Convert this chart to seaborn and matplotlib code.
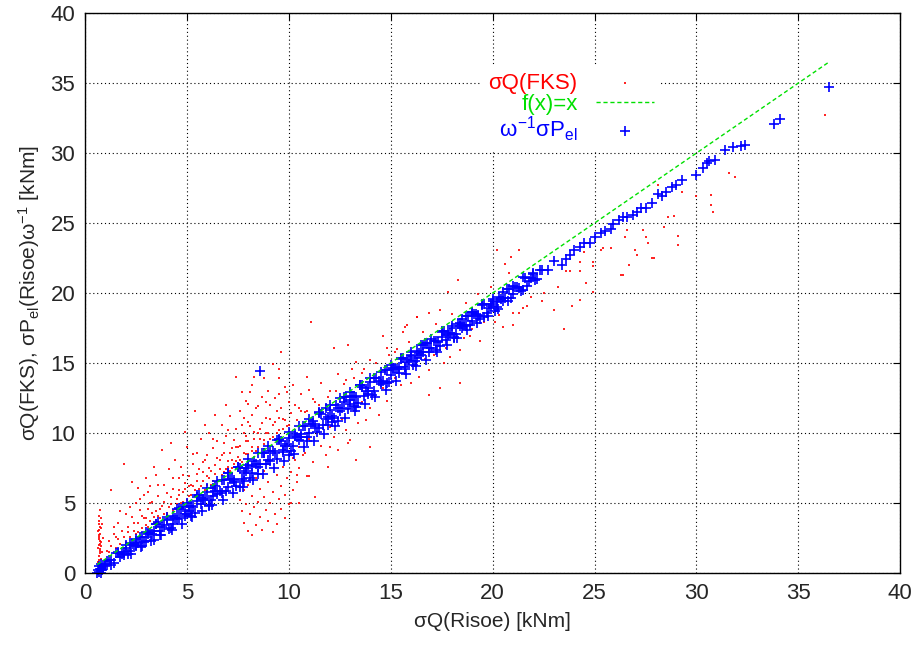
import matplotlib
matplotlib.use("Agg")
import matplotlib.pyplot as plt
import pandas as pd
import seaborn as sns

# sigma Q(Risoe) vs sigma Q(FKS)
red_spike = [(0.65, 0.8), (0.7, 1.2), (0.72, 1.6), (0.68, 2.0), (0.75, 2.3), (0.7, 2.7),
             (0.66, 3.0), (0.73, 3.3), (0.7, 3.7), (0.68, 4.1), (0.72, 4.5), (0.78, 1.0),
             (0.8, 1.9), (0.76, 2.8), (0.82, 3.5), (0.7, 0.5), (0.74, 1.4), (0.69, 2.4),
             (0.71, 3.1), (0.77, 3.9), (0.85, 1.5), (0.88, 2.5), (0.66, 1.8), (0.73, 2.1),
             (0.67, 2.6), (0.79, 3.2), (0.71, 0.9), (0.75, 1.7), (0.69, 3.5), (0.8, 2.2)]
red_upper = [(1.1, 1.6), (1.2, 2.3), (1.3, 1.9), (1.3, 5.9), (1.4, 2.8), (1.5, 1.8), (1.6, 2.4),
             (1.6, 3.6), (1.7, 2.1), (1.8, 3.0), (1.9, 7.8), (1.9, 2.6), (2.0, 4.2), (2.0, 2.2),
             (2.1, 3.3), (2.2, 2.6), (2.3, 6.5), (2.3, 4.0), (2.4, 3.0), (2.5, 2.8), (2.5, 5.0),
             (2.6, 3.6), (2.7, 4.5), (2.8, 3.2), (2.9, 5.6), (2.9, 3.9), (3.0, 3.4), (3.1, 4.6),
             (3.2, 3.7), (3.2, 6.2), (3.3, 5.1), (3.4, 4.0), (3.5, 7.0), (3.5, 4.4), (3.6, 5.5),
             (3.7, 3.9), (3.8, 8.8), (3.8, 4.8), (3.9, 6.3), (4.0, 4.3), (4.0, 5.7), (4.1, 7.4),
             (4.2, 4.9), (4.3, 6.0), (4.4, 4.6), (4.4, 8.1), (4.5, 5.3), (4.6, 6.8), (4.7, 5.0),
             (4.7, 7.6), (4.8, 5.8), (4.9, 6.4), (5.0, 5.2), (5.0, 9.0), (5.1, 6.9), (5.2, 5.6),
             (5.3, 7.8), (5.3, 6.2), (5.4, 5.5), (5.4, 11.6), (5.5, 8.6), (5.5, 7.1), (5.6, 6.0),
             (5.7, 9.6), (5.8, 6.6), (5.8, 7.9), (5.9, 5.9), (6.0, 8.4), (6.0, 6.9), (6.1, 10.0),
             (6.2, 7.3), (6.2, 6.3), (6.3, 8.9), (6.4, 7.7), (6.5, 6.6), (6.5, 9.4), (6.6, 8.1),
             (6.7, 7.0), (6.7, 10.6), (6.8, 8.6), (6.9, 7.4), (6.9, 9.8), (7.0, 8.0), (7.1, 11.2),
             (7.1, 7.3), (7.2, 8.9), (7.3, 9.5), (7.3, 7.8), (7.4, 14.0), (7.4, 10.3), (7.5, 8.3),
             (7.6, 11.6), (7.6, 9.1), (7.7, 7.9), (7.8, 10.0), (7.8, 11.1), (7.9, 12.3), (7.9, 8.5),
             (8.0, 9.4), (8.0, 10.8), (8.1, 12.9), (8.2, 9.0), (8.2, 11.3), (8.2, 13.4), (8.3, 10.1),
             (8.3, 14.0), (8.4, 8.7), (8.5, 11.9), (8.6, 9.6), (8.7, 10.7), (8.7, 12.6), (8.8, 9.2),
             (8.9, 11.1), (9.0, 13.0), (9.0, 10.0), (9.1, 12.0), (9.2, 9.7), (9.3, 10.8), (9.4, 11.6),
             (9.5, 10.2), (9.5, 12.8), (9.5, 13.9), (9.5, 14.6), (9.6, 15.8), (9.7, 11.0), (9.8, 13.3),
             (9.9, 10.5), (10.0, 12.2), (10.3, 12.0), (10.6, 12.8), (10.8, 11.5), (11.0, 13.1),
             (11.1, 17.9), (11.3, 12.2), (11.6, 13.6), (12.0, 13.0), (12.2, 16.1), (12.4, 14.2),
             (12.8, 13.8), (12.9, 16.3), (13.1, 14.6), (13.3, 15.1), (13.6, 14.3), (14.0, 15.2),
             (14.6, 16.9), (14.8, 16.1), (15.2, 15.8), (15.6, 17.2), (15.8, 17.7), (16.3, 18.3)]
red_near = [(2.1, 2.9), (2.4, 3.6), (2.6, 2.9), (2.8, 4.1), (3.0, 3.9), (3.1, 3.3), (3.3, 4.3),
            (3.4, 3.6), (3.6, 4.1), (3.7, 4.6), (3.9, 4.2), (4.1, 4.7), (4.2, 5.4), (4.3, 4.5),
            (4.5, 4.9), (4.6, 5.6), (4.8, 5.1), (4.9, 6.0), (5.1, 5.5), (5.2, 6.3), (5.4, 5.9),
            (5.5, 6.6), (5.7, 6.2), (5.8, 7.2), (6.0, 6.3), (6.1, 7.5), (6.3, 6.6), (6.4, 7.1),
            (6.6, 7.4), (6.7, 8.4), (6.8, 7.2), (7.0, 7.6), (7.1, 8.6), (7.2, 7.5), (7.4, 8.0),
            (7.5, 9.0), (7.6, 8.1), (7.8, 8.6), (7.9, 9.4), (8.0, 8.5), (8.2, 8.7), (8.3, 9.6),
            (8.5, 9.0), (8.6, 10.3), (8.8, 9.5), (8.9, 10.0), (9.1, 9.6), (9.2, 10.6), (9.4, 10.0),
            (9.5, 11.1), (9.7, 10.3), (9.8, 10.9), (10.0, 10.6), (10.1, 11.4), (10.4, 10.9),
            (10.6, 11.6), (10.9, 11.6), (11.2, 12.4), (11.5, 12.0), (11.9, 12.6), (12.3, 13.0),
            (12.7, 13.5), (13.2, 13.9), (13.7, 14.6), (14.3, 15.0), (14.9, 15.6), (3.0, 6.8),
            (4.2, 9.3), (4.9, 10.1), (6.4, 11.3), (6.9, 12.0), (8.0, 12.1), (9.2, 14.9), (3.4, 7.6),
            (2.6, 6.1), (5.9, 10.6), (7.7, 12.9), (8.8, 13.9)]
red_cloud = [(3.2, 5.0), (3.6, 6.3), (3.9, 5.1), (4.3, 6.8), (4.6, 5.9), (4.8, 7.0), (5.1, 6.2),
             (5.3, 8.5), (5.6, 7.4), (5.9, 8.1), (6.1, 6.8), (6.3, 9.6), (6.5, 8.2), (6.8, 9.3),
             (7.0, 10.2), (7.2, 8.1), (7.4, 9.0), (7.7, 10.6), (7.9, 9.8), (8.1, 10.5), (8.4, 11.8),
             (8.5, 10.0), (8.9, 12.2), (9.1, 11.0), (9.3, 12.5), (9.6, 11.8), (9.9, 12.9),
             (10.2, 13.4), (10.5, 11.8), (10.9, 14.0), (2.2, 4.7), (1.7, 4.4), (1.4, 3.3),
             (2.7, 5.3), (3.1, 5.8), (1.2, 1.5), (1.5, 2.6)]
red_lower = [(7.6, 5.2), (7.7, 4.4), (7.8, 5.9), (7.8, 3.6), (7.9, 4.9), (8.0, 3.0), (8.0, 6.3),
             (8.1, 4.2), (8.2, 5.5), (8.2, 2.7), (8.3, 4.7), (8.4, 3.4), (8.4, 6.8), (8.5, 5.1),
             (8.6, 4.0), (8.6, 6.0), (8.7, 3.1), (8.8, 5.4), (8.8, 7.3), (8.9, 4.5), (9.0, 3.7),
             (9.0, 6.5), (9.1, 5.0), (9.2, 2.9), (9.2, 5.8), (9.3, 4.2), (9.4, 7.0), (9.4, 3.5),
             (9.5, 5.3), (9.6, 6.2), (9.6, 4.6), (9.7, 7.6), (9.8, 3.9), (9.8, 5.6), (9.9, 6.8),
             (10.0, 4.9), (10.1, 7.2), (10.1, 5.0), (10.2, 5.9), (10.3, 8.1), (10.4, 6.5),
             (10.4, 7.0), (10.5, 7.5), (10.5, 5.0), (10.7, 8.4), (10.9, 6.9), (11.0, 6.9), (11.3, 5.4)]
red_mid = [(10.2, 8.2), (10.5, 9.0), (10.8, 8.6), (11.0, 9.6), (11.2, 7.9), (11.4, 10.0),
           (11.6, 9.1), (11.8, 8.4), (11.9, 7.6), (12.0, 10.4), (12.0, 9.0), (12.2, 9.7),
           (12.4, 8.8), (12.6, 11.0), (12.8, 10.2), (12.9, 9.3), (13.0, 9.5), (13.2, 11.6),
           (13.3, 8.1), (13.4, 10.7), (13.6, 12.2), (13.8, 10.9), (14.0, 11.8), (14.0, 9.0),
           (14.2, 12.7), (14.4, 11.3), (14.6, 13.2), (14.8, 12.3), (15.0, 13.6), (15.2, 13.9),
           (15.3, 16.0), (15.5, 13.4), (15.7, 14.2), (15.7, 17.6), (15.9, 16.5), (16.0, 13.6),
           (16.2, 14.8), (16.3, 18.3), (16.4, 14.0), (16.6, 17.2), (16.7, 15.3), (16.9, 14.5),
           (16.9, 12.7), (16.9, 18.6), (17.1, 15.6), (17.2, 17.8), (17.4, 13.2), (17.4, 18.8),
           (17.6, 15.0), (17.7, 16.1), (17.8, 20.1), (17.9, 15.4), (18.0, 18.5), (18.1, 16.7),
           (18.3, 20.9), (18.4, 15.9), (18.4, 13.6), (18.6, 16.8), (18.7, 19.3), (18.9, 16.9),
           (19.0, 17.4), (19.3, 19.9), (19.4, 16.6), (19.6, 17.9), (19.9, 20.4), (20.1, 17.9),
           (20.2, 23.1), (20.3, 18.4), (20.5, 17.6), (20.6, 22.1), (20.8, 21.4), (20.9, 22.6),
           (21.0, 17.7), (21.0, 18.6), (21.3, 23.1), (21.3, 18.6), (21.5, 18.9), (21.7, 19.1),
           (21.9, 19.7), (22.4, 19.4), (22.5, 20.0), (23.0, 18.8), (23.2, 20.4), (23.5, 17.4),
           (23.6, 21.6), (23.8, 21.6), (23.9, 19.1), (24.3, 19.5), (24.3, 21.6), (24.3, 22.2),
           (24.5, 22.9), (24.6, 20.7), (24.9, 22.2), (24.9, 20.1), (24.9, 21.9)]
red_high = [(25.3, 23.1), (25.4, 23.2), (25.8, 23.2), (26.3, 21.3), (26.4, 21.3), (26.5, 24.0),
            (26.6, 24.5), (26.7, 22.0), (27.0, 23.1), (27.1, 22.7), (27.4, 24.5), (27.5, 24.0),
            (27.6, 23.6), (27.8, 22.5), (27.9, 22.5), (28.1, 27.7), (28.4, 24.7), (28.6, 25.4),
            (28.9, 25.5), (29.1, 24.1), (29.1, 23.4), (29.3, 27.2), (30.0, 26.9), (30.5, 29.4),
            (30.7, 27.0), (30.7, 26.3), (30.8, 25.8), (31.6, 28.6), (31.9, 28.3), (36.3, 32.7)]

blue_band_x = [0.8, 1.0, 1.2, 1.4, 1.6, 1.8, 2.0, 2.2, 2.4, 2.6, 2.8, 3.0, 3.2, 3.4, 3.6, 3.8,
               4.0, 4.2, 4.4, 4.6, 4.8, 5.0, 5.2, 5.4, 5.6, 5.8, 6.0, 6.2, 6.4, 6.6, 6.8, 7.0,
               7.2, 7.4, 7.6, 7.8, 8.0, 8.2, 8.4, 8.6, 8.8, 9.0, 9.2, 9.4, 9.6, 9.8, 10.0, 10.2,
               10.4, 10.6, 10.8, 11.0, 11.2, 11.4, 11.6, 11.8, 12.0, 12.2, 12.4, 12.6, 12.8,
               13.0, 13.2, 13.4, 13.6, 13.8, 14.0, 14.2, 14.4, 14.6, 14.8, 15.0, 15.2, 15.4,
               15.6, 15.8, 16.0, 16.2, 16.4, 16.6, 16.8, 17.0, 17.2, 17.4, 17.6, 17.8, 18.0,
               18.2, 18.4, 18.6, 18.8, 19.0, 19.2, 19.4, 19.6, 19.8, 20.0, 20.2, 20.4, 20.6,
               20.8, 21.0, 21.2, 21.4, 21.6, 21.8, 22.0, 22.2, 22.4, 22.7, 23.0]
blue_band_y = [0.67, 0.52, 0.91, 0.75, 1.49, 1.39, 1.78, 1.57, 2.02, 2.11, 2.60, 2.30, 2.89,
               2.38, 3.67, 3.27, 3.86, 3.25, 3.95, 3.94, 4.73, 4.23, 4.82, 4.31, 5.60, 5.20,
               5.79, 5.18, 5.88, 5.87, 6.66, 6.16, 6.75, 6.24, 7.53, 7.13, 7.72, 7.11, 7.81,
               7.80, 8.59, 8.09, 8.68, 8.17, 9.46, 9.06, 9.65, 9.04, 9.74, 9.73, 10.52, 10.02,
               10.61, 10.10, 11.39, 10.99, 11.68, 11.07, 11.77, 11.76, 12.55, 12.05, 12.64,
               12.13, 13.42, 13.02, 13.61, 13.00, 13.70, 13.69, 14.48, 14.14, 14.65, 14.28,
               15.35, 15.07, 15.58, 15.13, 15.73, 15.76, 16.43, 16.07, 16.58, 16.21, 17.28,
               17.00, 17.51, 17.06, 17.66, 17.69, 18.36, 18.00, 18.51, 18.14, 19.21, 18.93,
               19.44, 18.99, 19.59, 19.62, 20.30, 19.93, 20.44, 20.16, 21.05, 20.85, 21.34,
               21.03, 21.63, 21.62, 22.31]
blue_band2_x = [0.9, 1.1, 1.3, 1.5, 1.7, 1.9, 2.1, 2.3, 2.5, 2.7, 2.9, 3.1, 3.3, 3.5, 3.7,
                3.9, 4.1, 4.3, 4.5, 4.7, 4.9, 5.1, 5.3, 5.5, 5.7, 5.9, 6.1, 6.3, 6.5, 6.7, 6.9,
                7.1, 7.3, 7.5, 7.7, 7.9, 8.1, 8.3, 8.5, 8.7, 8.9, 9.1, 9.3, 9.5, 9.7, 9.9, 10.1,
                10.3, 10.5, 10.7, 10.9, 11.1, 11.3, 11.5, 11.7, 11.9, 12.1, 12.3, 12.5, 12.7,
                12.9, 13.1, 13.3, 13.5, 13.7, 13.9, 14.1, 14.3, 14.5, 14.7, 14.9, 15.1, 15.3,
                15.5, 15.7, 15.9, 16.1, 16.3, 16.5, 16.7, 16.9, 17.1, 17.3, 17.5, 17.7, 17.9,
                18.1, 18.3, 18.5, 18.7, 18.9, 19.1, 19.3, 19.5, 19.7, 19.9, 20.1, 20.3, 20.5,
                20.7, 20.9, 21.1, 21.3, 21.5, 21.7, 21.9, 22.1, 22.3]
blue_band2_y = [0.32, 0.86, 0.90, 1.45, 1.14, 1.53, 1.38, 2.07, 1.96, 2.56, 2.25, 2.83, 2.82,
                3.50, 2.99, 3.46, 3.17, 4.06, 3.83, 4.59, 4.08, 4.76, 4.75, 5.43, 4.92, 5.39,
                4.89, 6.08, 5.67, 6.67, 5.86, 6.75, 6.65, 7.54, 6.73, 7.32, 6.82, 8.01, 7.60,
                8.60, 7.79, 8.68, 8.58, 9.47, 8.66, 9.25, 8.75, 9.94, 9.53, 10.53, 9.72, 10.61,
                10.51, 11.40, 10.59, 11.18, 10.78, 11.97, 11.56, 12.56, 11.75, 12.64, 12.54,
                13.43, 12.62, 13.21, 12.71, 13.90, 13.49, 14.49, 13.68, 14.61, 14.56, 15.32,
                14.71, 15.22, 14.86, 15.85, 15.57, 16.40, 15.79, 16.55, 16.50, 17.26, 16.65,
                17.16, 16.80, 17.79, 17.51, 18.34, 17.73, 18.49, 18.44, 19.20, 18.59, 19.10,
                18.74, 19.73, 19.45, 20.28, 19.67, 20.43, 20.38, 21.14, 20.53, 21.04, 20.94,
                21.63]
blue_band3_x = [1.0, 1.3, 1.6, 1.9, 2.2, 2.5, 2.8, 3.1, 3.4, 3.7, 4.0, 4.3, 4.6, 4.9, 5.2,
                5.5, 5.8, 6.1, 6.4, 6.7, 7.0, 7.3, 7.6, 7.9, 8.2, 8.5, 8.8, 9.1, 9.4, 9.7, 10.0,
                10.3, 10.6, 10.9, 11.2, 11.5, 11.8, 12.1, 12.4, 12.7, 13.0, 13.3, 13.6, 13.9,
                14.2, 14.5, 14.8, 15.1, 15.4, 15.7, 16.0, 16.3, 16.6, 16.9, 17.2, 17.5, 17.8,
                18.1, 18.4, 18.7, 19.0, 19.3, 19.6, 19.9, 20.2]
blue_band3_y = [0.67, 0.56, 1.42, 1.31, 2.17, 1.99, 1.95, 2.80, 2.98, 2.71, 3.81, 3.53, 4.63,
                4.25, 4.09, 5.11, 5.30, 4.79, 6.23, 5.72, 7.16, 6.49, 6.13, 7.47, 7.61, 7.10,
                8.54, 8.03, 9.47, 8.81, 8.45, 9.79, 9.93, 9.42, 10.86, 10.35, 11.79, 11.23,
                10.87, 12.21, 12.35, 11.84, 13.27, 12.76, 13.92, 13.64, 13.54, 14.54, 14.74,
                14.55, 15.53, 15.34, 16.32, 16.04, 15.94, 16.87, 17.07, 16.88, 17.86, 17.67,
                18.65, 18.37, 18.27, 19.19, 19.39]
blue_edge_x = [2.0, 2.25, 2.5, 2.75, 3.0, 3.25, 3.5, 3.75, 4.0, 4.25, 4.5, 4.75, 5.0, 5.25,
               5.5, 5.75, 6.0, 6.25, 6.5, 6.75, 7.0, 7.25, 7.5, 7.75, 8.0, 8.25, 8.5, 8.75,
               9.0, 9.25, 9.5, 9.75, 10.0, 10.25, 10.5, 10.75, 11.0, 11.25, 11.5, 11.75, 12.0,
               12.25, 12.5, 12.75, 13.0, 13.25, 13.5, 13.75, 14.0, 14.25, 14.5, 14.75, 15.0,
               15.25, 15.5, 15.75, 16.0, 16.25, 16.5, 16.75, 17.0, 17.25, 17.5, 17.75, 18.0,
               18.25, 18.5, 18.75, 19.0, 19.25, 19.5, 19.75, 20.0, 20.25, 20.5, 20.75, 21.0,
               21.5, 22.0]
blue_edge_y = [1.98, 1.37, 2.46, 1.85, 2.95, 2.29, 3.48, 2.72, 4.01, 3.10, 4.54, 3.53, 5.03,
               3.97, 5.56, 4.40, 6.09, 4.83, 6.57, 5.21, 7.11, 5.70, 7.59, 6.13, 8.12, 6.61,
               8.60, 7.04, 9.09, 7.53, 9.57, 8.01, 10.05, 8.49, 10.53, 8.97, 11.02, 9.46,
               11.50, 9.94, 12.03, 10.52, 12.51, 11.05, 12.95, 11.59, 13.43, 12.07, 13.91,
               12.60, 14.34, 13.08, 14.85, 13.69, 15.34, 14.23, 15.82, 14.76, 16.26, 15.25,
               16.74, 15.78, 17.23, 16.32, 17.66, 16.80, 18.15, 17.34, 18.63, 17.87, 19.12,
               18.36, 19.55, 18.89, 20.04, 19.43, 20.47, 20.21, 21.44]
blue_tail = [(23.4, 22.0), (23.6, 22.4), (23.8, 22.7), (24.0, 23.1), (24.3, 23.3), (24.5, 23.6),
             (24.8, 23.6), (25.0, 24.0), (25.3, 24.3), (25.5, 24.4), (25.8, 24.6), (25.9, 24.9),
             (26.2, 25.2), (26.4, 25.4), (26.6, 25.4), (26.9, 25.6), (27.1, 25.8), (27.3, 26.1),
             (27.5, 26.1), (27.8, 26.4), (28.1, 27.1), (28.3, 26.9), (28.5, 27.2), (28.8, 27.6),
             (29.0, 27.7), (29.3, 28.1), (30.0, 28.4), (30.3, 28.9), (30.5, 29.3), (30.6, 29.4),
             (30.9, 29.5), (31.4, 30.2), (31.8, 30.4), (32.2, 30.5), (32.4, 30.6), (33.8, 32.1),
             (34.1, 32.4), (36.5, 34.7)]
blue_other = [(0.6, 0.0), (0.7, 0.1), (0.75, 0.3), (0.8, 0.0), (0.65, 0.2), (0.9, 0.4),
              (0.7, 0.5), (0.85, 0.2), (5.1, 4.4), (6.3, 5.5), (7.8, 6.6), (11.9, 10.6),
              (13.2, 11.9), (8.6, 14.4), (26.6, 31.7)]

red = pd.DataFrame(red_spike + red_upper + red_near + red_cloud + red_lower + red_mid + red_high,
                   columns=["x", "y"])
blue = pd.concat([pd.DataFrame({"x": blue_band_x, "y": blue_band_y}),
                  pd.DataFrame({"x": blue_band2_x, "y": blue_band2_y}),
                  pd.DataFrame({"x": blue_band3_x, "y": blue_band3_y}),
                  pd.DataFrame({"x": blue_edge_x, "y": blue_edge_y}),
                  pd.DataFrame(blue_tail + blue_other, columns=["x", "y"])], ignore_index=True)
lo = min(red["x"].min(), blue["x"].min())
hi = max(red["x"].max(), blue["x"].max())
ident = pd.DataFrame({"x": [lo, hi], "y": [lo, hi]})

sns.set_style("white")
plt.rcParams["font.family"] = ["Liberation Sans", "DejaVu Sans"]
plt.rcParams["mathtext.fontset"] = "custom"
plt.rcParams["mathtext.rm"] = "Liberation Sans"
plt.rcParams["mathtext.it"] = "Liberation Sans"

fig = plt.figure(figsize=(9.14, 6.53), dpi=100)
ax = fig.add_axes([0.093, 0.1225, 0.892, 0.8575])

sns.scatterplot(data=red, x="x", y="y", ax=ax, color="#ff0000", marker="s", s=3.5,
                linewidth=0, alpha=0.85, label="σQ(FKS)")
sns.lineplot(data=ident, x="x", y="y", ax=ax, color="#00e000", linewidth=1,
             label="f(x)=x")
ax.lines[-1].set_linestyle((0, (3, 2)))
sns.scatterplot(data=blue, x="x", y="y", ax=ax, color="#0000ff", marker="+", s=60,
                linewidth=1.2, label=r"$\omega^{-1}\sigma\mathrm{P}_{\mathrm{el}}$", clip_on=False)

ax.set_xlim(0, 40)
ax.set_ylim(0, 40)
ax.set_xticks(range(0, 41, 5))
ax.set_yticks(range(0, 41, 5))
ax.grid(True, color="black", linestyle=(0, (1, 2.5)), linewidth=0.8)
ax.tick_params(direction="in", length=5, top=True, right=True, labelsize=16, pad=7,
               color="black")
for sp in ax.spines.values():
    sp.set_color("black")
    sp.set_linewidth(1)

ax.set_xlabel("σQ(Risoe) [kNm]", fontsize=15, labelpad=6)
ax.set_ylabel(r"σQ(FKS), σP$_{\mathrm{el}}$(Risoe)ω$^{-1}$ [kNm]", fontsize=15, labelpad=6)

leg = ax.legend(loc="upper right", bbox_to_anchor=(0.72, 0.925), markerfirst=False,
                frameon=True, fancybox=False, edgecolor="none", framealpha=1,
                handlelength=2.6, handletextpad=0.85, labelspacing=0.0, borderpad=0.3,
                fontsize=16)
for txt, c in zip(leg.get_texts(), ["#ff0000", "#00e000", "#0000ff"]):
    txt.set_color(c)

fig.savefig("out.png", dpi=100)
